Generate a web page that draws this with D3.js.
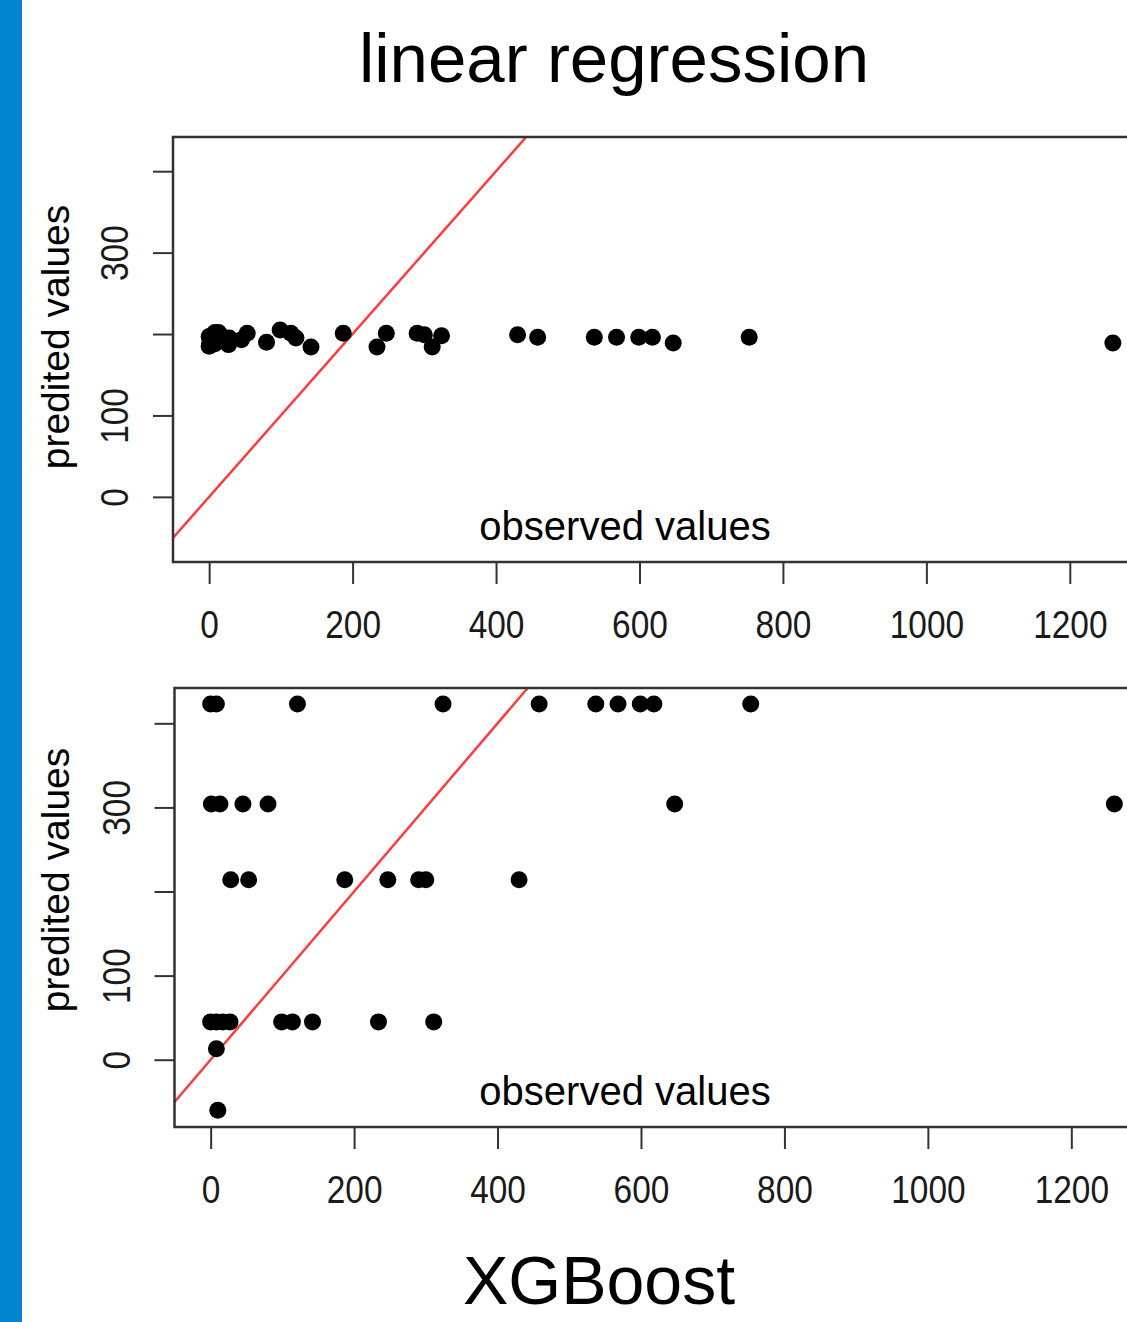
<!DOCTYPE html>
<html>
<head>
<meta charset="utf-8">
<title>linear regression vs XGBoost</title>
<script src="https://d3js.org/d3.v7.min.js"></script>
<style>
  body { margin: 0; background: #fff; }
  text { font-family: "Liberation Sans", Arial, Helvetica, sans-serif; }
</style>
</head>
<body>
<svg id="chart" width="1127" height="1322"></svg>
<script>

// test set: observed values and what each model predicted for them
var observed = [0, 8, 121, 324, 458, 537, 568, 599, 618, 753,
                1, 13, 45, 80, 647, 1260,
                28, 53, 187, 247, 290, 300, 430,
                0, 8, 17, 27, 99, 114, 142, 234, 311,
                8, 10];
var predLM   = [197, 200, 195, 198, 196, 196, 196, 196, 196, 196,
                190, 202, 193, 190, 189, 189,
                195, 201, 201, 201, 201, 199, 199,
                185, 188, 198, 187, 205, 201, 184, 184, 184,
                202, 192];
var predXGB  = [423, 423, 423, 423, 423, 423, 423, 423, 423, 423,
                304, 304, 304, 304, 304, 304,
                214, 214, 214, 214, 214, 214, 214,
                45, 45, 45, 45, 45, 45, 45, 45, 45,
                13, -60];

var xTicks = [0, 200, 400, 600, 800, 1000, 1200];
var yTicks = [0, 100, 200, 300, 400];
var yLabels = [0, 100, 300];   // R skips the labels that would overlap
var xDomain = [-50.4, 1310.4];
var yDomain = [-80, 442];

var svg = d3.select("#chart");

svg.append("rect")
    .attr("width", 1127).attr("height", 1322)
    .attr("fill", "#fff");

// blue slide edge
svg.append("rect")
    .attr("x", 0).attr("y", 0)
    .attr("width", 22).attr("height", 1322)
    .attr("fill", "#0284cf");

var panels = [
    { pred: predLM,  left: 173,   top: 137, bottom: 562,  labelY: 337 },
    { pred: predXGB, left: 174.5, top: 688, bottom: 1127, labelY: 880 }
];

panels.forEach(function(p, i) {
    var x = d3.scaleLinear().domain(xDomain).range([p.left, p.left + 976]);
    var y = d3.scaleLinear().domain(yDomain).range([p.bottom, p.top]);
    var g = svg.append("g");

    g.append("clipPath").attr("id", "clip" + i)
      .append("rect")
        .attr("x", p.left).attr("y", p.top)
        .attr("width", 976).attr("height", p.bottom - p.top);

    // y = x reference line
    g.append("line")
        .attr("clip-path", "url(#clip" + i + ")")
        .attr("x1", x(yDomain[0])).attr("y1", y(yDomain[0]))
        .attr("x2", x(yDomain[1])).attr("y2", y(yDomain[1]))
        .attr("stroke", "#ff3b3b")
        .attr("stroke-width", 2.5);

    g.selectAll("circle")
        .data(observed)
        .enter().append("circle")
        .attr("cx", function(d) { return x(d); })
        .attr("cy", function(d, j) { return y(p.pred[j]); })
        .attr("r", 8.5)
        .attr("fill", "#000");

    g.append("rect")
        .attr("x", p.left).attr("y", p.top)
        .attr("width", 976).attr("height", p.bottom - p.top)
        .attr("fill", "none")
        .attr("stroke", "#333")
        .attr("stroke-width", 2.5);

    // x axis
    var xa = g.append("g")
        .attr("transform", "translate(0," + p.bottom + ")")
        .call(d3.axisBottom(x).tickValues(xTicks).tickSize(22)
            .tickFormat(d3.format("d")))
        .attr("color", "#333")
        .attr("font-size", 38)
        .attr("font-family", "'Liberation Sans', Arial, sans-serif");
    xa.select(".domain").remove();
    xa.selectAll(".tick line").attr("stroke-width", 2);
    xa.selectAll(".tick text")
        .attr("y", 76).attr("dy", null)
        .attr("fill", "#1a1a1a")
        .attr("transform", "scale(0.88,1)");

    // y axis
    var ya = g.append("g")
        .attr("transform", "translate(" + p.left + ",0)")
        .call(d3.axisLeft(y).tickValues(yTicks).tickSize(20)
            .tickFormat(function(d) { return yLabels.indexOf(d) >= 0 ? d : ""; }))
        .attr("color", "#333")
        .attr("font-size", 38)
        .attr("font-family", "'Liberation Sans', Arial, sans-serif");
    ya.select(".domain").remove();
    ya.selectAll(".tick line").attr("stroke-width", 2);
    ya.selectAll(".tick text")
        .attr("x", 0).attr("y", -45).attr("dy", null)
        .attr("text-anchor", "middle")
        .attr("fill", "#1a1a1a")
        .attr("transform", "rotate(-90) scale(0.88,1)");

    g.append("text")
        .attr("x", 625).attr("y", p.bottom - 22)
        .attr("text-anchor", "middle")
        .attr("font-size", 40)
        .text("observed values");

    g.append("text")
        .attr("transform", "translate(69," + p.labelY + ") rotate(-90)")
        .attr("text-anchor", "middle")
        .attr("font-size", 39)
        .text("predited values");
});

svg.append("text")
    .attr("x", 614).attr("y", 82)
    .attr("text-anchor", "middle")
    .attr("font-size", 69)
    .text("linear regression");

svg.append("text")
    .attr("x", 599).attr("y", 1304)
    .attr("text-anchor", "middle")
    .attr("font-size", 68)
    .text("XGBoost");

</script>
</body>
</html>
